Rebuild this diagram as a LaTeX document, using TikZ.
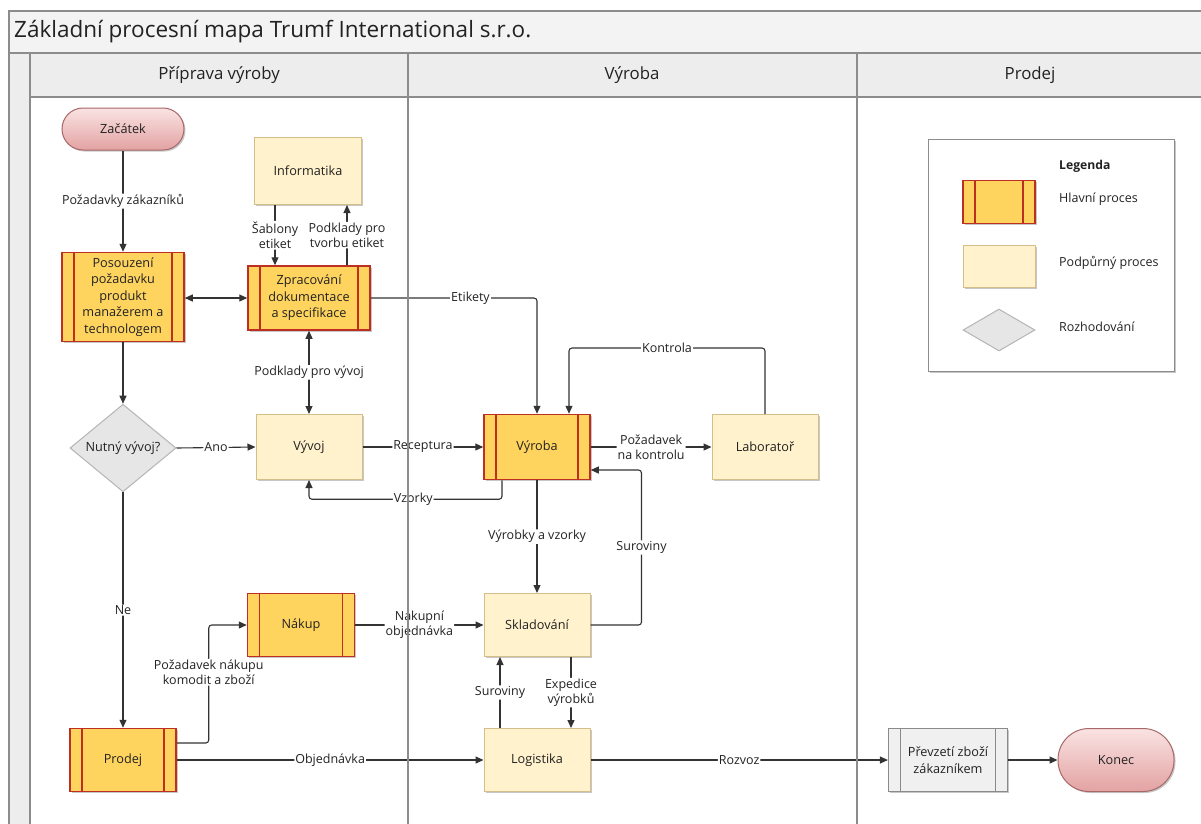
\documentclass[tikz,border=0pt]{standalone}
\usepackage{fontspec}
\setmainfont{Open Sans}
\usetikzlibrary{shapes.geometric,arrows.meta,shadows,calc}
\definecolor{mainfill}{HTML}{FFD45E}
\definecolor{mainborder}{HTML}{BD2F20}
\definecolor{suppfill}{HTML}{FFF2CC}
\definecolor{suppborder}{HTML}{D4BE8A}
\definecolor{decfill}{HTML}{E6E6E6}
\definecolor{decborder}{HTML}{B5B5B5}
\definecolor{pilltop}{HTML}{FAE3E3}
\definecolor{pillbot}{HTML}{E3A2A2}
\definecolor{pillborder}{HTML}{A86868}
\definecolor{grayfill}{HTML}{F0F0F0}
\definecolor{grayborder}{HTML}{8A8A8A}
\definecolor{framecol}{HTML}{8C8C8C}
\definecolor{hdrfill}{HTML}{EDEDED}
\definecolor{titlefill}{HTML}{F3F3F3}
\definecolor{linecol}{HTML}{333333}
\definecolor{textcol}{HTML}{222222}
\newcommand\mynodefont{\fontsize{12.7}{16.5}\selectfont}
\newcommand\mylabelfont{\fontsize{12.5}{15}\selectfont}
\begin{document}
\begin{tikzpicture}[x=1pt,y=-1pt,
  shadowed/.style={drop shadow={shadow xshift=1.5pt,shadow yshift=-1.5pt,opacity=0.22,fill=black}},
  box/.style={inner sep=2pt, align=center, font=\mynodefont, text=textcol},
  mainproc/.style={box, shadowed, draw=mainborder, line width=1.5pt, fill=mainfill,
    path picture={
      \draw[mainborder,line width=1.3pt] ([xshift=12pt]path picture bounding box.north west) -- ([xshift=12pt]path picture bounding box.south west);
      \draw[mainborder,line width=1.3pt] ([xshift=-12pt]path picture bounding box.north east) -- ([xshift=-12pt]path picture bounding box.south east);}},
  grayproc/.style={box, shadowed, draw=grayborder, line width=1.2pt, fill=grayfill,
    path picture={
      \draw[grayborder,line width=1.1pt] ([xshift=12pt]path picture bounding box.north west) -- ([xshift=12pt]path picture bounding box.south west);
      \draw[grayborder,line width=1.1pt] ([xshift=-12pt]path picture bounding box.north east) -- ([xshift=-12pt]path picture bounding box.south east);}},
  suppproc/.style={box, shadowed, draw=suppborder, line width=1pt, fill=suppfill},
  decision/.style={box, diamond, draw=decborder, line width=1pt, fill=decfill, inner sep=0pt},
  pill/.style={box, shadowed, draw=pillborder, line width=1pt, top color=pilltop, bottom color=pillbot, rounded corners=#1},
  conn/.style={draw=linecol, line width=1.1pt, -{Triangle[length=8pt,width=7pt]}, rounded corners=3pt},
  dconn/.style={conn, {Triangle[length=8pt,width=7pt]}-{Triangle[length=8pt,width=7pt]}},
  lbl/.style={fill=white, inner sep=1pt, font=\mylabelfont, align=center, text=textcol},
  legtxt/.style={anchor=west, font=\fontsize{12.5}{15}\selectfont, text=textcol, inner sep=0pt},
  hdr/.style={font=\fontsize{16.8}{20}\selectfont, text=textcol},
  frame/.style={draw=framecol, line width=1.4pt}
]
\useasboundingbox (0,0) rectangle (1201,823);
\fill[white] (0,0) rectangle (1201,823);
% swimlane frame
\filldraw[frame, fill=titlefill] (9,11) rectangle (1220,53);
\filldraw[frame, fill=hdrfill] (30,53) rectangle (1220,97);
\filldraw[frame, fill=hdrfill] (9,53) rectangle (30,840);
\node[anchor=west, font=\fontsize{22.5}{26}\selectfont, text=textcol, inner sep=0pt] (title) at (14,32) {Základní procesní mapa Trumf International s.r.o.};
\node[hdr] (h1) at (219,75) {Příprava výroby};
\node[hdr] (h2) at (632,75) {Výroba};
\node[hdr] (h3) at (1030,75) {Prodej};

% nodes
\node[pill=21pt, minimum width=122pt, minimum height=42pt] (start) at (123,129) {Začátek};
\node[suppproc, minimum width=107pt, minimum height=67pt] (info) at (308,171) {Informatika};
\node[mainproc, minimum width=122pt, minimum height=89pt] (pos) at (123,297) {Posouzení\\požadavku\\produkt\\manažerem a\\technologem};
\node[mainproc, minimum width=122pt, minimum height=64pt] (zpr) at (309,298) {Zpracování\\dokumentace\\a specifikace};
\node[decision, minimum width=106pt, minimum height=64pt] (dec) at (123,448) {Nutný vývoj?};
\node[suppproc, minimum width=106pt, minimum height=65pt] (vyv) at (309,447) {Vývoj};
\node[mainproc, minimum width=106pt, minimum height=65pt] (vyr) at (537,447) {Výroba};
\node[suppproc, minimum width=106pt, minimum height=65pt] (lab) at (765,447) {Laboratoř};
\node[mainproc, minimum width=107pt, minimum height=63pt] (nak) at (301,625) {Nákup};
\node[suppproc, minimum width=106pt, minimum height=63pt] (skl) at (537,625) {Skladování};
\node[mainproc, minimum width=106pt, minimum height=63pt] (pro) at (123,760) {Prodej};
\node[suppproc, minimum width=106pt, minimum height=63pt] (log) at (537,760) {Logistika};
\node[grayproc, minimum width=119pt, minimum height=63pt] (prev) at (948,760) {Převzetí zboží\\zákazníkem};
\node[pill=31pt, minimum width=116pt, minimum height=63pt] (kon) at (1116,760) {Konec};

% legend
\node[draw=framecol, line width=1pt, fill=white, shadowed, minimum width=246pt, minimum height=232pt] (leg) at (1051,255) {};
\node[anchor=west, font=\bfseries\fontsize{12.2}{14}\selectfont, text=textcol, inner sep=0pt] (legt) at (1059,166) {Legenda};
\node[mainproc, minimum width=72pt, minimum height=43pt] (lm) at (999,202) {};
\node[suppproc, minimum width=72pt, minimum height=42pt] (ls) at (999,266) {};
\node[decision, minimum width=72pt, minimum height=42pt] (ld) at (999,330) {};
\node[legtxt] (lmt) at (1059,199) {Hlavní proces};
\node[legtxt] (lst) at (1059,263) {Podpůrný proces};
\node[legtxt] (ldt) at (1059,327) {Rozhodování};

% connectors
\draw[conn] (start) -- node[lbl]{Požadavky zákazníků} (pos);
\draw[dconn] (pos.east |- zpr.west) -- (zpr.west);
\draw[conn] ([xshift=-33pt]info.south) -- node[lbl]{Šablony\\etiket} ([xshift=-34pt]zpr.north);
\draw[conn] ([xshift=38pt]zpr.north) -- node[lbl]{Podklady pro\\tvorbu etiket} ([xshift=39pt]info.south);
\draw[dconn] (zpr.south) -- node[lbl]{Podklady pro vývoj} (vyv.north);
\draw[conn] (zpr.east) -| node[lbl, pos=0.3]{Etikety} (vyr.north);
\draw[conn] (pos.south) -- (dec.north);
\draw[conn] (dec.east) -- node[lbl]{Ano} (vyv.west);
\draw[conn] (vyv.east) -- node[lbl]{Receptura} (vyr.west);
\draw[conn] ([xshift=-35pt]vyr.south) -- ++(0,19) -| node[lbl, pos=0.23]{Vzorky} (vyv.south);
\draw[conn] (lab.north) -- ++(0,-66) -| node[lbl, pos=0.25]{Kontrola} ([xshift=32pt]vyr.north);
\draw[conn] (vyr.east) -- node[lbl]{Požadavek\\na kontrolu} (lab.west);
\draw[conn] (skl.east) -- ++(51,0) |- node[lbl, pos=0.25]{Suroviny} ([yshift=-23pt]vyr.east);
\draw[conn] (vyr.south) -- node[lbl]{Výrobky a vzorky} (skl.north);
\draw[conn] (dec.south) -- node[lbl]{Ne} (pro.north);
\draw[conn] ([yshift=17pt]pro.east) -- ++(32,0) |- node[lbl, pos=0.3]{Požadavek nákupu\\komodit a zboží} (nak.west);
\draw[conn] (nak.east) -- node[lbl]{Nákupní\\objednávka} (skl.west);
\draw[conn] (pro.east) -- node[lbl]{Objednávka} (log.west);
\draw[conn] ([xshift=-37pt]log.north) -- node[lbl]{Suroviny} ([xshift=-37pt]skl.south);
\draw[conn] ([xshift=34pt]skl.south) -- node[lbl]{Expedice\\výrobků} ([xshift=34pt]log.north);
\draw[conn] (log.east) -- node[lbl]{Rozvoz} (prev.west);
\draw[conn] (prev.east) -- (kon.west);

% lane dividers
\draw[frame] (408,53) -- (408,840);
\draw[frame] (857,53) -- (857,840);
\end{tikzpicture}
\end{document}
